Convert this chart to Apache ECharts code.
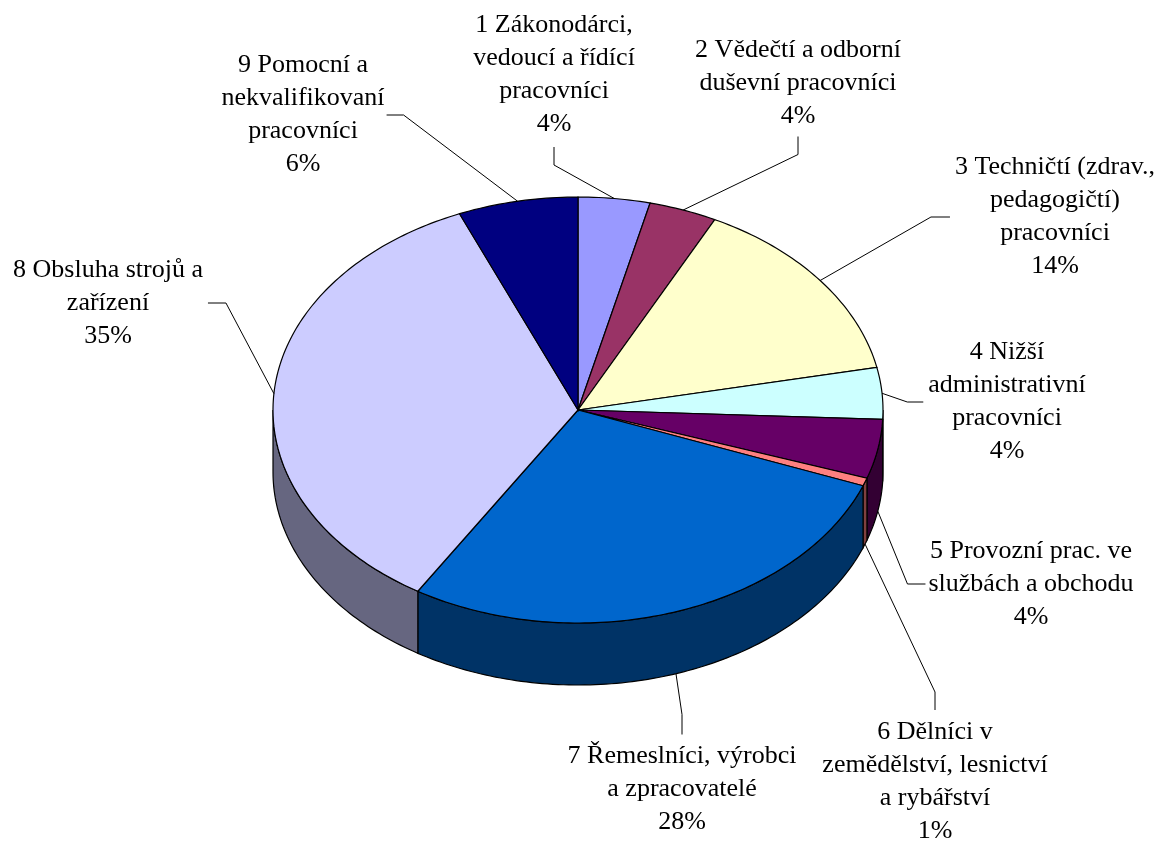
<!DOCTYPE html>
<html>
<head>
<meta charset="utf-8">
<script src="https://cdn.jsdelivr.net/npm/echarts@6/dist/echarts.min.js"></script>
<style>
html, body { margin: 0; padding: 0; background: #fff; }
#container { width: 1162px; height: 841px; }
</style>
</head>
<body>
<div id="container"></div>
<script>
// category names (with the line breaks used in the labels)
var categories = [
    '1 Zákonodárci,\nvedoucí a řídící\npracovníci',
    '2 Vědečtí a odborní\nduševní pracovníci',
    '3 Techničtí (zdrav.,\npedagogičtí)\npracovníci',
    '4 Nižší\nadministrativní\npracovníci',
    '5 Provozní prac. ve\nslužbách a obchodu',
    '6 Dělníci v\nzemědělství, lesnictví\na rybářství',
    '7 Řemeslníci, výrobci\na zpracovatelé',
    '8 Obsluha strojů a\nzařízení',
    '9 Pomocní a\nnekvalifikovaní\npracovníci'
];
// shares in %
var values = [3.8, 3.6, 14.4, 3.9, 4.49, 0.6, 28.01, 34.85, 6.35];
var colors = ['#9999FF', '#993366', '#FFFFCC', '#CCFFFF', '#660066', '#FF8080', '#0066CC', '#CCCCFF', '#000080'];

// layout of the tilted pie
var pie = { cx: 578, cy: 410, rx: 305, ry: 213, depth: 62 };
var FONT_SIZE = 26;
var FONT_FAMILY = 'Liberation Serif';
var LINE_H = 33;
// label box centres and where the leader leaves the box
var labelLayout = [
    { x: 554, y: 75, side: 'bottom', gap: 6, len: 18 },
    { x: 798, y: 83, side: 'bottom', gap: 4, len: 18 },
    { x: 1055, y: 217, side: 'left', gap: 5, len: 19 },
    { x: 1007, y: 402, side: 'left', gap: 5, len: 16 },
    { x: 1031, y: 584, side: 'left', gap: 3, len: 18 },
    { x: 935, y: 782, side: 'top', gap: 6, len: 18 },
    { x: 682, y: 789, side: 'top', gap: 5, len: 20 },
    { x: 108, y: 303, side: 'right', gap: 5, len: 18 },
    { x: 303, y: 115, side: 'right', gap: 2, len: 17 }
];

var total = values.reduce(function (a, b) { return a + b; }, 0);
var startAngles = [];
var acc = 0;
for (var i = 0; i < values.length; i++) {
    startAngles.push(acc / total * Math.PI * 2);
    acc += values[i];
}

function darken(hex) {
    var n = parseInt(hex.slice(1), 16);
    var r = Math.round(((n >> 16) & 255) / 2);
    var g = Math.round(((n >> 8) & 255) / 2);
    var b = Math.round((n & 255) / 2);
    return 'rgb(' + r + ',' + g + ',' + b + ')';
}

// angle measured clockwise from 12 o'clock
function pt(a, dy) {
    return [pie.cx + pie.rx * Math.sin(a), pie.cy - pie.ry * Math.cos(a) + (dy || 0)];
}

function arc(a0, a1, dy) {
    var pts = [];
    var steps = Math.max(2, Math.ceil((a1 - a0) / (Math.PI / 180)));
    for (var k = 0; k <= steps; k++) {
        pts.push(pt(a0 + (a1 - a0) * k / steps, dy));
    }
    return pts;
}

var measureCtx = document.createElement('canvas').getContext('2d');
measureCtx.font = FONT_SIZE + 'px "' + FONT_FAMILY + '"';
function textWidth(txt) {
    return Math.max.apply(null, txt.split('\n').map(function (s) {
        return measureCtx.measureText(s).width;
    }));
}

function renderItem(params, api) {
    var idx = params.dataIndex;
    var v = api.value(0);
    var a0 = startAngles[idx];
    var a1 = a0 + v / total * Math.PI * 2;
    var children = [];

    // outer wall, only the front half is visible
    var s = Math.max(a0, Math.PI / 2);
    var e = Math.min(a1, Math.PI * 1.5);
    if (s < e) {
        var wall = arc(s, e, 0).concat(arc(s, e, pie.depth).reverse());
        children.push({
            type: 'polygon',
            shape: { points: wall },
            style: { fill: darken(colors[idx]), stroke: '#000', lineWidth: 1.2 }
        });
    }

    // top face
    children.push({
        type: 'polygon',
        shape: { points: [[pie.cx, pie.cy]].concat(arc(a0, a1, 0)) },
        style: { fill: colors[idx], stroke: '#000', lineWidth: 1.2 }
    });

    return { type: 'group', children: children };
}

// data labels with leader lines
function buildLabels() {
    var els = [];
    for (var idx = 0; idx < values.length; idx++) {
        var v = values[idx];
        var a0 = startAngles[idx];
        var a1 = a0 + v / total * Math.PI * 2;
        var lay = labelLayout[idx];
        var txt = categories[idx] + '\n' + Math.round(v / total * 100) + '%';
        var w = textWidth(txt);
        var h = txt.split('\n').length * LINE_H;
        var mid = (a0 + a1) / 2;
        var front = mid > Math.PI / 2 && mid < Math.PI * 1.5;
        var end = pt(mid, front ? pie.depth : 0);
        var p0, p1;
        if (lay.side === 'bottom') {
            p0 = [lay.x, lay.y + h / 2 + lay.gap];
            p1 = [lay.x, p0[1] + lay.len];
        } else if (lay.side === 'top') {
            p0 = [lay.x, lay.y - h / 2 - lay.gap];
            p1 = [lay.x, p0[1] - lay.len];
        } else if (lay.side === 'left') {
            p0 = [lay.x - w / 2 - lay.gap, lay.y];
            p1 = [p0[0] - lay.len, lay.y];
        } else {
            p0 = [lay.x + w / 2 + lay.gap, lay.y];
            p1 = [p0[0] + lay.len, lay.y];
        }
        els.push({
            type: 'polyline',
            shape: { points: [p0, p1, end] },
            style: { stroke: '#000', lineWidth: 1, fill: null },
            z: 5
        });
        els.push({
            type: 'text',
            x: lay.x,
            y: lay.y,
            style: {
                text: txt,
                fontSize: FONT_SIZE,
                fontFamily: FONT_FAMILY,
                fill: '#000',
                align: 'center',
                verticalAlign: 'middle',
                lineHeight: LINE_H
            },
            z: 6
        });
    }
    return els;
}

var myChart = echarts.init(document.getElementById('container'));
var option = {
    backgroundColor: '#fff',
    animation: false,
    textStyle: { fontFamily: FONT_FAMILY },
    graphic: buildLabels(),
    series: [{
        type: 'custom',
        coordinateSystem: 'none',
        silent: true,
        renderItem: renderItem,
        data: values.map(function (v) { return [v]; })
    }]
};
myChart.setOption(option);
</script>
</body>
</html>
